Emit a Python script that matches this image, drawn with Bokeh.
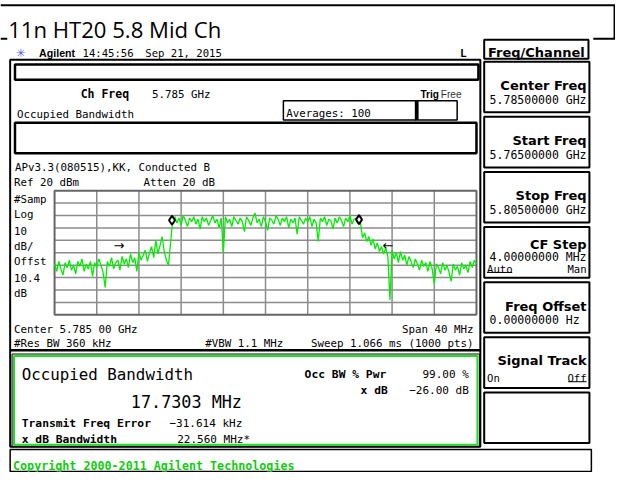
from bokeh.plotting import figure
from bokeh.models import Range1d
from bokeh.core.properties import value
from bokeh.embed import file_html
from bokeh.resources import INLINE
import numpy as np

# ---------------- data ----------------
TITLE = "11n HT20 5.8 Mid Ch"
CENTER_GHZ = 5.785
SPAN_MHZ = 40.0
REF_DBM = 20.0
DB_PER_DIV = 10.0
N_DIV = 10
OBW_MHZ = 17.7303

# measured trace (dBm), sweep points evenly spread over the span (0.2 MHz apart)
trace_dbm = [
    # 0 - 11 MHz
    -39, -45, -37, -43, -48, -38, -42, -36, -44, -40,
    -47, -37, -41, -35, -45, -39, -43, -37, -49, -38,
    -42, -35, -40, -46, -58, -37, -41, -34, -43, -38,
    -36, -44, -33, -39, -35, -42, -31, -38, -34, -45,
    -30, -36, -32, -28, -37, -30, -25, -34, -20, -31,
    -24, -17, -29, -36, -40, -22,
    # rising edge
    -4,
    # plateau 11.4 - 28.8 MHz
    -1, -6, -2, -8, 0, -4, -9, -2, -5, -1,
    -7, -3, -11, -1, -5, -2, -8, -4, 0, -6,
    -3, -10, -2, -30, -1, -6, -3, -9, -1, -4,
    -7, -2, -5, -13, -1, -4, -8, -2, 2, -6,
    -3, -9, -1, -5, -12, -2, -4, -7, 0, -3,
    -8, -2, -5, -1, -10, -3, -6, -2, -15, -1,
    -4, -7, -2, -5, -1, -9, -3, -6, -21, -2,
    -5, -1, -8, -3, -4, -11, -2, -6, -1, -4,
    -9, -2, -5, 0, -7, -3, -2, -5,
    # falling edge
    -6, -18,
    # 29.4 - 40 MHz
    -14, -21, -17, -24, -19, -27, -22, -29, -25, -31,
    -26, -33, -68, -28, -35, -30, -38, -29, -36, -32,
    -40, -33, -37, -42, -35, -39, -44, -36, -41, -38,
    -45, -37, -43, -55, -39, -42, -47, -38, -44, -40,
    -46, -53, -39, -44, -41, -48, -38, -43, -40, -46,
    -37, -42, -36, -39,
]
marker_dbm = [-3.8, -3.3]
xdb_arrow_ghz = [5.7711, 5.7966]
xdb_arrow_dbm = [-24.4, -24.4]
xdb_arrow_txt = ["\u2192", "\u2190"]

softkey_titles = ["Center Freq", "Start Freq", "Stop Freq", "CF Step", "Freq Offset", "Signal Track", ""]
softkey_values = ["5.78500000 GHz", "5.76500000 GHz", "5.80500000 GHz", "4.00000000 MHz", "0.00000000  Hz", "", ""]

# ---------------- layout (reference pixel space) ----------------
W, H = 637, 494
FIG_W, FIG_H = 615, 472
FS = 0.96
GX0, GX1, GY0, GY1 = 56.0, 493.0, 199.0, 329.0

p = figure(width=FIG_W, height=FIG_H, x_range=Range1d(0, W), y_range=Range1d(H, 0),
           output_backend="svg", toolbar_location=None, min_border=0)
p.axis.visible = False
p.grid.visible = False
p.outline_line_color = None
p.background_fill_color = "white"
p.border_fill_color = "white"

f_start = CENTER_GHZ - SPAN_MHZ / 2000.0
f_stop = CENTER_GHZ + SPAN_MHZ / 2000.0
px_per_ghz = (GX1 - GX0) / (f_stop - f_start)
bot_dbm = REF_DBM - N_DIV * DB_PER_DIV
px_per_db = (GY1 - GY0) / (N_DIV * DB_PER_DIV)
p.extra_x_ranges = {"freq": Range1d(f_start - GX0 / px_per_ghz, f_start + (W - GX0) / px_per_ghz)}
p.extra_y_ranges = {"dbm": Range1d(REF_DBM - (H - GY0) / px_per_db, REF_DBM + GY0 / px_per_db)}


def box(x0, y0, x1, y1, lw=1.5, color="black"):
    p.quad(left=[x0], right=[x1], top=[y0], bottom=[y1], fill_color=None,
           line_color=color, line_width=lw)


def hline(x0, x1, y, lw=1.5, color="black"):
    p.segment(x0=[x0], y0=[y], x1=[x1], y1=[y], line_color=color, line_width=lw)


def vline(x, y0, y1, lw=1.5, color="black"):
    p.segment(x0=[x], y0=[y0], x1=[x], y1=[y1], line_color=color, line_width=lw)


def T(x, y, s, size, font="DejaVu Sans Mono", bold=False, align="left", color="black"):
    p.text(x=[x], y=[y], text=[s], text_font=value(font),
           text_font_size=value(f"{size * FS:.1f}px"),
           text_font_style="bold" if bold else "normal",
           text_align=align, text_baseline="alphabetic", text_color=color)


# title cell
hline(0, W, 5, 2)
vline(636, 5, 40, 2)
hline(0, 7, 40, 2)
hline(614, W, 40, 2)
T(8, 30, TITLE, 23, font="Open Sans")

# header
T(21, 55, "\u2733", 12, font="DejaVu Sans", align="center", color="#5a5af0")
T(40, 55, "Agilent", 11, font="Liberation Sans", bold=True)
T(85, 55, "14:45:56", 11)
T(150, 55, "Sep 21, 2015", 11)
T(476, 55, "L", 11.5, bold=True)

# main panel
box(10, 62, 497, 467, 2)
box(15, 67, 495, 83, 2.5)
T(83, 98, "Ch Freq", 12, bold=True)
T(157, 98, "5.785 GHz", 11.3)
T(435, 98, "Trig", 10.5, font="Liberation Sans", bold=True)
T(456, 98, "Free", 10.5, font="Liberation Sans", color="#333333")
T(17, 119, "Occupied Bandwidth", 11.3)
box(293, 105, 430, 125, 1.5)
T(296, 118, "Averages: 100", 11.3)
box(430, 105, 473, 125, 1.5)
vline(431.5, 105, 125, 3)
box(15, 128, 493, 160, 2.5)
T(15, 175, "APv3.3(080515),KK, Conducted B", 11.3)
T(14, 191, "Ref 20 dBm", 11.3)
T(148, 191, "Atten 20 dB", 11.3)
for i, s in enumerate(["#Samp", "Log", "10", "dB/", "Offst", "10.4", "dB"]):
    T(14, 208 + 16.4 * i, s, 11.3)
T(14, 344, "Center 5.785 00 GHz", 11.3)
T(490, 344, "Span 40 MHz", 11.3, align="right")
T(14, 359, "#Res BW 360 kHz", 11.3)
T(212, 359, "#VBW 1.1 MHz", 11.3)
T(490, 359, "Sweep 1.066 ms (1000 pts)", 11.3, align="right")

# graticule
gf = [f_start + k * (f_stop - f_start) / N_DIV for k in range(N_DIV + 1)]
gd = [REF_DBM - k * DB_PER_DIV for k in range(N_DIV + 1)]
p.segment(x0=gf[1:-1], y0=[REF_DBM] * (N_DIV - 1), x1=gf[1:-1], y1=[bot_dbm] * (N_DIV - 1),
          x_range_name="freq", y_range_name="dbm", line_color="#8c8c8c", line_width=1.5)
p.segment(x0=[f_start] * (N_DIV - 1), y0=gd[1:-1], x1=[f_stop] * (N_DIV - 1), y1=gd[1:-1],
          x_range_name="freq", y_range_name="dbm", line_color="#8c8c8c", line_width=1.5)
p.quad(left=[f_start], right=[f_stop], top=[REF_DBM], bottom=[bot_dbm], fill_color=None,
       line_color="#666666", line_width=2, x_range_name="freq", y_range_name="dbm")

# trace
fx = np.linspace(f_start, f_stop, len(trace_dbm))
p.line(fx, trace_dbm, x_range_name="freq", y_range_name="dbm", line_color="#00ee00", line_width=1.3)

# markers
mk_ghz = [CENTER_GHZ - OBW_MHZ / 2000.0, CENTER_GHZ + OBW_MHZ / 2000.0]
p.scatter(x=mk_ghz, y=marker_dbm, marker="diamond", size=9, fill_color="white",
          line_color="black", line_width=2, x_range_name="freq", y_range_name="dbm")
p.text(x=xdb_arrow_ghz, y=xdb_arrow_dbm, text=xdb_arrow_txt, x_range_name="freq", y_range_name="dbm",
       text_font=value("DejaVu Sans"), text_font_size=value("13px"), text_align="center",
       text_baseline="middle", text_color="black")

# result panel
hline(10, 497, 366, 2.5)
box(12, 370, 496, 467, 1)
box(14, 372, 494, 465, 2, "#22dd22")
T(22, 391, "Occupied Bandwidth", 16.5)
T(135, 420, "17.7303 MHz", 17.5)
T(22, 443, "Transmit Freq Error", 11.8, bold=True)
T(175, 443, "\u221231.614 kHz", 11.5)
T(22, 459, "x dB Bandwidth", 11.8, bold=True)
T(183, 459, "22.560 MHz*", 11.5)
T(315, 391, "Occ BW % Pwr", 11.8, bold=True)
T(485, 391, "99.00 %", 11.5, align="right")
T(373, 408, "x dB", 11.8, bold=True)
T(485, 408, "\u221226.00 dB", 11.5, align="right")

# copyright bar
box(10, 470, 612, 493, 1.5)
T(13, 487, "Copyright 2000-2011 Agilent Technologies", 12.2, bold=True, color="#11cc11")

# softkeys
box(501, 41, 609, 61, 2)
T(555, 54, "Freq/Channel", 13.5, font="DejaVu Sans", bold=True, align="center")
for i in range(7):
    top = 64 + 57.7 * i
    box(501, top, 610, top + 53, 2)
    t = softkey_titles[i]
    v = softkey_values[i]
    if t == "CF Step":
        T(607, top + 18, t, 13.5, font="DejaVu Sans", bold=True, align="right")
        T(607, top + 31, v, 12, align="right")
        T(504, top + 44, "Auto", 11)
        hline(504, 530, top + 47.5, 1)
        T(607, top + 44, "Man", 11, align="right")
    elif t == "Signal Track":
        T(607, top + 24, t, 13.5, font="DejaVu Sans", bold=True, align="right")
        T(504, top + 43, "On", 11)
        T(607, top + 43, "Off", 11, align="right")
        hline(588, 607, top + 46.5, 1)
    elif t:
        T(607, top + 25, t, 13.5, font="DejaVu Sans", bold=True, align="right")
        T(607, top + 40, v, 12, align="right")

open("out.html", "w").write(file_html(p, INLINE))
